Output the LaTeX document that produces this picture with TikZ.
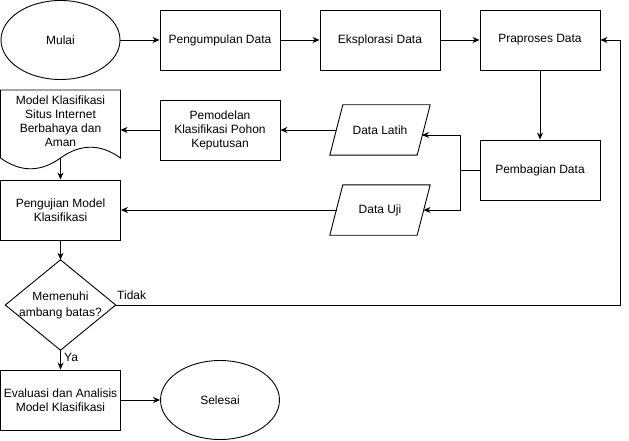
\documentclass[tikz,border=0pt]{standalone}
\usepackage{fontspec}
\setmainfont{Liberation Sans}
\usetikzlibrary{arrows.meta,shapes.geometric,calc}
\begin{document}
\begin{tikzpicture}[x=1pt,y=-1pt,
  every node/.style={font=\fontsize{12}{14}\selectfont, align=center, inner sep=0pt},
  proc/.style={draw, minimum width=120pt, minimum height=60pt, line width=0.9pt},
  term/.style={draw, ellipse, minimum width=119pt, minimum height=79pt, line width=0.9pt},
  io/.style={minimum width=100pt, minimum height=50pt},
  arr/.style={-{Stealth[length=7pt,width=6pt]}, line width=0.9pt},
  ln/.style={line width=0.9pt}]
\useasboundingbox (0,0) rectangle (629,441);

% nodes
\node[term] (mulai) at (60.5,40) {Mulai};
\node[proc] (kumpul) at (220,40) {Pengumpulan Data};
\node[proc] (eksplor) at (380,40) {Eksplorasi Data};
\node[proc] (prap) at (540,40) {Praproses Data};
\node[proc] (bagi) at (540,170) {Pembagian Data};
\node[io] (latih) at (380,130) {Data Latih};
\node[io] (uji) at (380,210) {Data Uji};
\node[proc] (model) at (220,130) {Pemodelan\\Klasifikasi Pohon\\Keputusan};
\node (doc) at (60.5,121) {Model Klasifikasi\\Situs Internet\\Berbahaya dan\\Aman};
\node[proc] (uji2) at (60.5,210) {Pengujian Model\\Klasifikasi};
\node[minimum width=110pt, minimum height=90pt, font=\fontsize{12}{16}\selectfont] (dec) at (60.5,305) {Memenuhi\\ambang batas?};
\node[proc] (eval) at (60.5,400) {Evaluasi dan Analisis\\Model Klasifikasi};
\node[term] (selesai) at (220,400) {Selesai};

% shapes drawn around text nodes
\draw[ln] ($(latih.north west)+(13,0)$) -- (latih.north east) -- ($(latih.south east)+(-13,0)$) -- (latih.south west) -- cycle;
\draw[ln] ($(uji.north west)+(13,0)$) -- (uji.north east) -- ($(uji.south east)+(-13,0)$) -- (uji.south west) -- cycle;
\draw[ln] (dec.north) -- (dec.east) -- (dec.south) -- (dec.west) -- cycle;
\draw[ln] (0.5,90) -- (120.5,90) -- (120.5,158) .. controls (100.5,143.6) and (80.5,143.6) .. (60.5,158) .. controls (40.5,172.4) and (20.5,172.4) .. (0.5,158) -- cycle;

% coordinates
\coordinate (split) at (460,170);
\coordinate (latihin) at (422,135);
\coordinate (ujiin) at (423.5,210);
\coordinate (latihout) at (336,130);
\coordinate (ujiout) at (336.5,210);
\coordinate (docin) at (120.5,130);
\coordinate (docout) at (60.5,158);
\coordinate (loopc) at (620,305);

% connectors
\draw[arr] (mulai.east) -- (kumpul.west);
\draw[arr] (kumpul.east) -- (eksplor.west);
\draw[arr] (eksplor.east) -- (prap.west);
\draw[arr] (prap.south) -- (bagi.north);
\draw[ln] (bagi.west) -- (split);
\draw[arr] (split) |- (latihin);
\draw[arr] (split) |- (ujiin);
\draw[arr] (latihout) -- (model.east);
\draw[arr] (model.west) -- (docin);
\draw[arr] (docout) -- (uji2.north);
\draw[arr] (ujiout) -- (uji2.east);
\draw[arr] (uji2.south) -- (dec.north);
\draw[arr] (dec.east) -- (loopc) |- (prap.east);
\draw[arr] (dec.south) -- (eval.north);
\draw[arr] (eval.east) -- (selesai.west);

% labels
\node[anchor=west] (tidak) at (117,295) {Tidak};
\node[anchor=west] (ya) at (64,357) {Ya};
\end{tikzpicture}
\end{document}
